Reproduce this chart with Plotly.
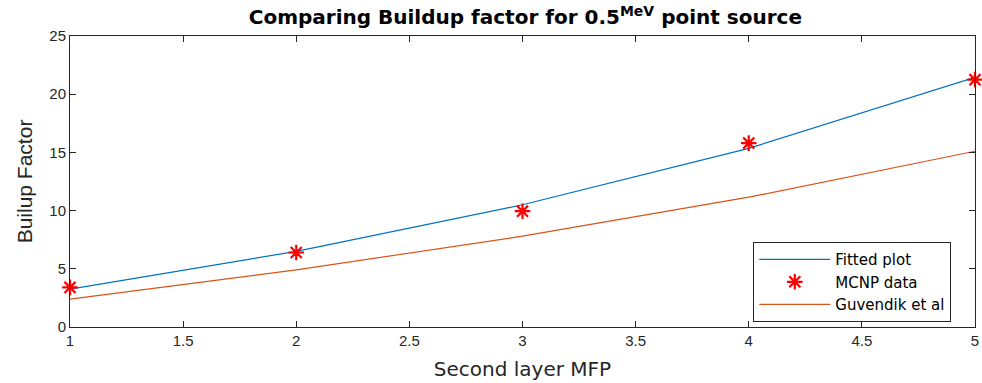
import plotly.graph_objects as go

mfp = [1, 2, 3, 4, 5]
fitted = [3.25, 6.5, 10.5, 15.35, 21.45]
mcnp = [3.4, 6.4, 9.95, 15.8, 21.25]
guvendik = [2.4, 4.9, 7.8, 11.15, 15.1]

x_ticks = [1, 1.5, 2, 2.5, 3, 3.5, 4, 4.5, 5]
x_ticklabels = ["1", "1.5", "2", "2.5", "3", "3.5", "4", "4.5", "5"]
y_ticks = [0, 5, 10, 15, 20, 25]

FONT = "Liberation Sans, Arial, sans-serif"
WIDE = "DejaVu Sans, sans-serif"

fig = go.Figure()
fig.add_trace(go.Scatter(x=mfp, y=fitted, mode="lines", name="Fitted plot",
                         line=dict(color="#0072BD", width=1.2)))
fig.add_trace(go.Scatter(x=mfp, y=mcnp, mode="markers", name="MCNP data",
                         marker=dict(symbol="asterisk-open", size=13, color="#FF0000",
                                     line=dict(color="#FF0000", width=2.2)),
                         cliponaxis=False))
fig.add_trace(go.Scatter(x=mfp, y=guvendik, mode="lines", name="Guvendik et al",
                         line=dict(color="#D95319", width=1.2)))

axis_common = dict(showline=True, linecolor="#262626", linewidth=1, mirror="ticks",
                   ticks="inside", ticklen=6, tickcolor="#262626", showgrid=False,
                   zeroline=False, automargin=False,
                   tickfont=dict(family=FONT, size=15, color="#262626"))

fig.update_layout(
    width=982, height=383,
    margin=dict(l=70, r=7, t=36, b=56),
    paper_bgcolor="white", plot_bgcolor="white",
    title=dict(text="<b>Comparing Buildup factor for 0.5<sup>MeV</sup> point source</b>",
               x=0.535, xanchor="center", y=0.955, yanchor="middle",
               font=dict(family=WIDE, size=20, color="black")),
    xaxis=dict(range=[1, 5], tickvals=x_ticks, ticktext=x_ticklabels,
               title=dict(text="Second layer MFP", standoff=13,
                          font=dict(family=WIDE, size=20, color="#262626")),
               **axis_common),
    yaxis=dict(range=[0, 25], tickvals=y_ticks,
               title=dict(text="Builup Factor", standoff=10,
                          font=dict(family=FONT, size=21, color="#262626")),
               **axis_common),
    legend=dict(x=0.755, y=0.292, xanchor="left", yanchor="top",
                bordercolor="#262626", borderwidth=1, bgcolor="white",
                font=dict(family=WIDE, size=15, color="black"),
                tracegroupgap=0, itemwidth=71),
    showlegend=True,
)

fig.write_html("out.html", config={"displayModeBar": False},
               post_script="document.body.style.margin='0px';")
